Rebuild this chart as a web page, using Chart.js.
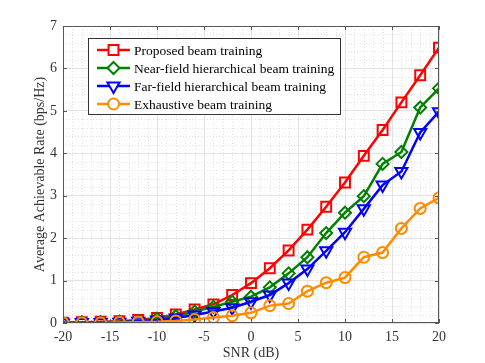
<!DOCTYPE html>
<html>
<head>
<meta charset="utf-8">
<script src="https://cdn.jsdelivr.net/npm/chart.js@4/dist/chart.umd.min.js"></script>
<style>
  html, body { margin: 0; padding: 0; background: #fff; }
  #wrap { width: 485px; height: 363px; }
</style>
</head>
<body>
<div id="wrap"><canvas id="rateChart" width="485" height="363"></canvas></div>
<script>
// SNR points (dB)
var snr = [-20, -18, -16, -14, -12, -10, -8, -6, -4, -2, 0, 2, 4, 6, 8, 10, 12, 14, 16, 18, 20];

// average achievable rate (bps/Hz)
var proposed = [0.01, 0.02, 0.03, 0.04, 0.07, 0.12, 0.2, 0.32, 0.44, 0.66, 0.94, 1.29, 1.71, 2.2, 2.74, 3.31, 3.94, 4.55, 5.2, 5.84, 6.49];
var nearField = [0.01, 0.02, 0.02, 0.03, 0.05, 0.1, 0.16, 0.27, 0.38, 0.5, 0.62, 0.84, 1.17, 1.55, 2.12, 2.6, 2.99, 3.75, 4.03, 5.08, 5.53];
var farField = [0.0, 0.01, 0.01, 0.02, 0.04, 0.07, 0.12, 0.19, 0.27, 0.36, 0.5, 0.66, 0.94, 1.27, 1.7, 2.14, 2.69, 3.25, 3.57, 4.49, 4.98];
var exhaustive = [0.0, 0.0, 0.0, 0.01, 0.02, 0.03, 0.05, 0.08, 0.13, 0.17, 0.24, 0.41, 0.46, 0.75, 0.95, 1.07, 1.55, 1.66, 2.23, 2.7, 2.95];

var seriesNames = ['Proposed beam training', 'Near-field hierarchical beam training', 'Far-field hierarchical beam training', 'Exhaustive beam training'];
var seriesColors = ['#ff0000', '#008000', '#0000ff', '#ff8c00'];

var xTicks = [-20, -15, -10, -5, 0, 5, 10, 15, 20];
var yTicks = [0, 1, 2, 3, 4, 5, 6, 7];

var FONT = '"Liberation Serif", "Times New Roman", serif';

function pts(ys) {
  return snr.map(function (x, i) { return { x: x, y: ys[i] }; });
}

function makeSet(i, ys, style, radius, rot, order) {
  return {
    label: seriesNames[i],
    data: pts(ys),
    borderColor: seriesColors[i],
    backgroundColor: '#ffffff',
    borderWidth: 2.5,
    pointStyle: style,
    pointRadius: radius,
    pointRotation: rot,
    pointBorderWidth: 2,
    pointBorderColor: seriesColors[i],
    pointBackgroundColor: 'rgba(255,255,255,0)',
    order: order,
    tension: 0
  };
}

// minor dotted grid + box + inward ticks, drawn under the data
var gridPlugin = {
  id: 'matlabGrid',
  beforeDatasetsDraw: function (chart) {
    var ctx = chart.ctx, a = chart.chartArea;
    var xs = chart.scales.x, ys = chart.scales.y;
    ctx.save();
    ctx.strokeStyle = '#d4d4d4';
    ctx.lineWidth = 0.7;
    ctx.setLineDash([1, 2]);
    for (var v = -20; v <= 20; v += 1) {
      if (v % 5 === 0) continue;
      var px = Math.round(xs.getPixelForValue(v)) + 0.5;
      ctx.beginPath(); ctx.moveTo(px, a.top); ctx.lineTo(px, a.bottom); ctx.stroke();
    }
    for (var k = 0; k <= 35; k++) {
      if (k % 5 === 0) continue;
      var py = Math.round(ys.getPixelForValue(k / 5)) + 0.5;
      ctx.beginPath(); ctx.moveTo(a.left, py); ctx.lineTo(a.right, py); ctx.stroke();
    }
    ctx.restore();
  },
  afterDatasetsDraw: function (chart) {
    var ctx = chart.ctx, a = chart.chartArea;
    var xs = chart.scales.x, ys = chart.scales.y;
    ctx.save();
    ctx.strokeStyle = '#555555';
    ctx.lineWidth = 1;
    ctx.strokeRect(a.left + 0.5, a.top + 0.5, a.right - a.left - 1, a.bottom - a.top - 1);
    ctx.beginPath();
    xTicks.forEach(function (v) {
      var px = Math.round(xs.getPixelForValue(v)) + 0.5;
      ctx.moveTo(px, a.bottom); ctx.lineTo(px, a.bottom - 4);
      ctx.moveTo(px, a.top); ctx.lineTo(px, a.top + 4);
    });
    yTicks.forEach(function (v) {
      var py = Math.round(ys.getPixelForValue(v)) + 0.5;
      ctx.moveTo(a.left, py); ctx.lineTo(a.left + 4, py);
      ctx.moveTo(a.right, py); ctx.lineTo(a.right - 4, py);
    });
    ctx.stroke();
    ctx.restore();
  },
  afterDraw: function (chart) {
    // legend box inside the plot, top-left
    var ctx = chart.ctx;
    var bx = 88, by = 38, bw = 252, bh = 76;
    ctx.save();
    ctx.fillStyle = '#ffffff';
    ctx.fillRect(bx, by, bw, bh);
    ctx.strokeStyle = '#333333';
    ctx.lineWidth = 1;
    ctx.strokeRect(bx + 0.5, by + 0.5, bw, bh);
    chart.data.datasets.forEach(function (ds, i) {
      var yy = by + 12 + i * 18;
      ctx.strokeStyle = ds.borderColor;
      ctx.lineWidth = 2.5;
      ctx.beginPath(); ctx.moveTo(97, yy); ctx.lineTo(130, yy); ctx.stroke();
      ctx.fillStyle = '#ffffff';
      ctx.lineWidth = 2;
      Chart.helpers.drawPoint(ctx, {
        pointStyle: ds.pointStyle, radius: ds.pointRadius,
        rotation: ds.pointRotation, borderWidth: 2
      }, 113.5, yy);
      ctx.fillStyle = '#000000';
      ctx.font = '13.5px ' + FONT;
      ctx.textBaseline = 'middle';
      ctx.textAlign = 'left';
      ctx.fillText(ds.label, 134, yy + 1);
    });
    ctx.restore();
  }
};

var ctx = document.getElementById('rateChart').getContext('2d');
var rateChart = new Chart(ctx, {
  type: 'line',
  data: {
    datasets: [
      makeSet(0, proposed, 'rect', 7, 0, 3),
      makeSet(1, nearField, 'rectRot', 6, 0, 2),
      makeSet(2, farField, 'triangle', 7, 180, 1),
      makeSet(3, exhaustive, 'circle', 5.5, 0, 0)
    ]
  },
  options: {
    responsive: false,
    animation: false,
    layout: { padding: { left: 32, top: 26, right: 46, bottom: 0 } },
    plugins: { legend: { display: false }, tooltip: { enabled: false } },
    scales: {
      x: {
        type: 'linear', min: -20, max: 20,
        afterBuildTicks: function (s) { s.ticks = xTicks.map(function (v) { return { value: v }; }); },
        afterFit: function (s) { s.height = 40; },
        grid: { color: '#e3e3e3', lineWidth: 1, drawTicks: false },
        border: { display: false },
        ticks: { color: '#333333', font: { family: FONT, size: 14 }, padding: 6, maxRotation: 0 },
        title: { display: true, text: 'SNR (dB)', color: '#333333', font: { family: FONT, size: 14 }, padding: { top: 0, bottom: 1 } }
      },
      y: {
        min: 0, max: 7,
        afterBuildTicks: function (s) { s.ticks = yTicks.map(function (v) { return { value: v }; }); },
        afterFit: function (s) { s.width = 31; },
        grid: { color: '#e3e3e3', lineWidth: 1, drawTicks: false },
        border: { display: false },
        ticks: { color: '#333333', font: { family: FONT, size: 14 }, padding: 6 },
        title: { display: true, text: 'Average Achievable Rate (bps/Hz)', color: '#333333', font: { family: FONT, size: 14 }, padding: { top: 0, bottom: 0 } }
      }
    }
  },
  plugins: [gridPlugin]
});
</script>
</body>
</html>
